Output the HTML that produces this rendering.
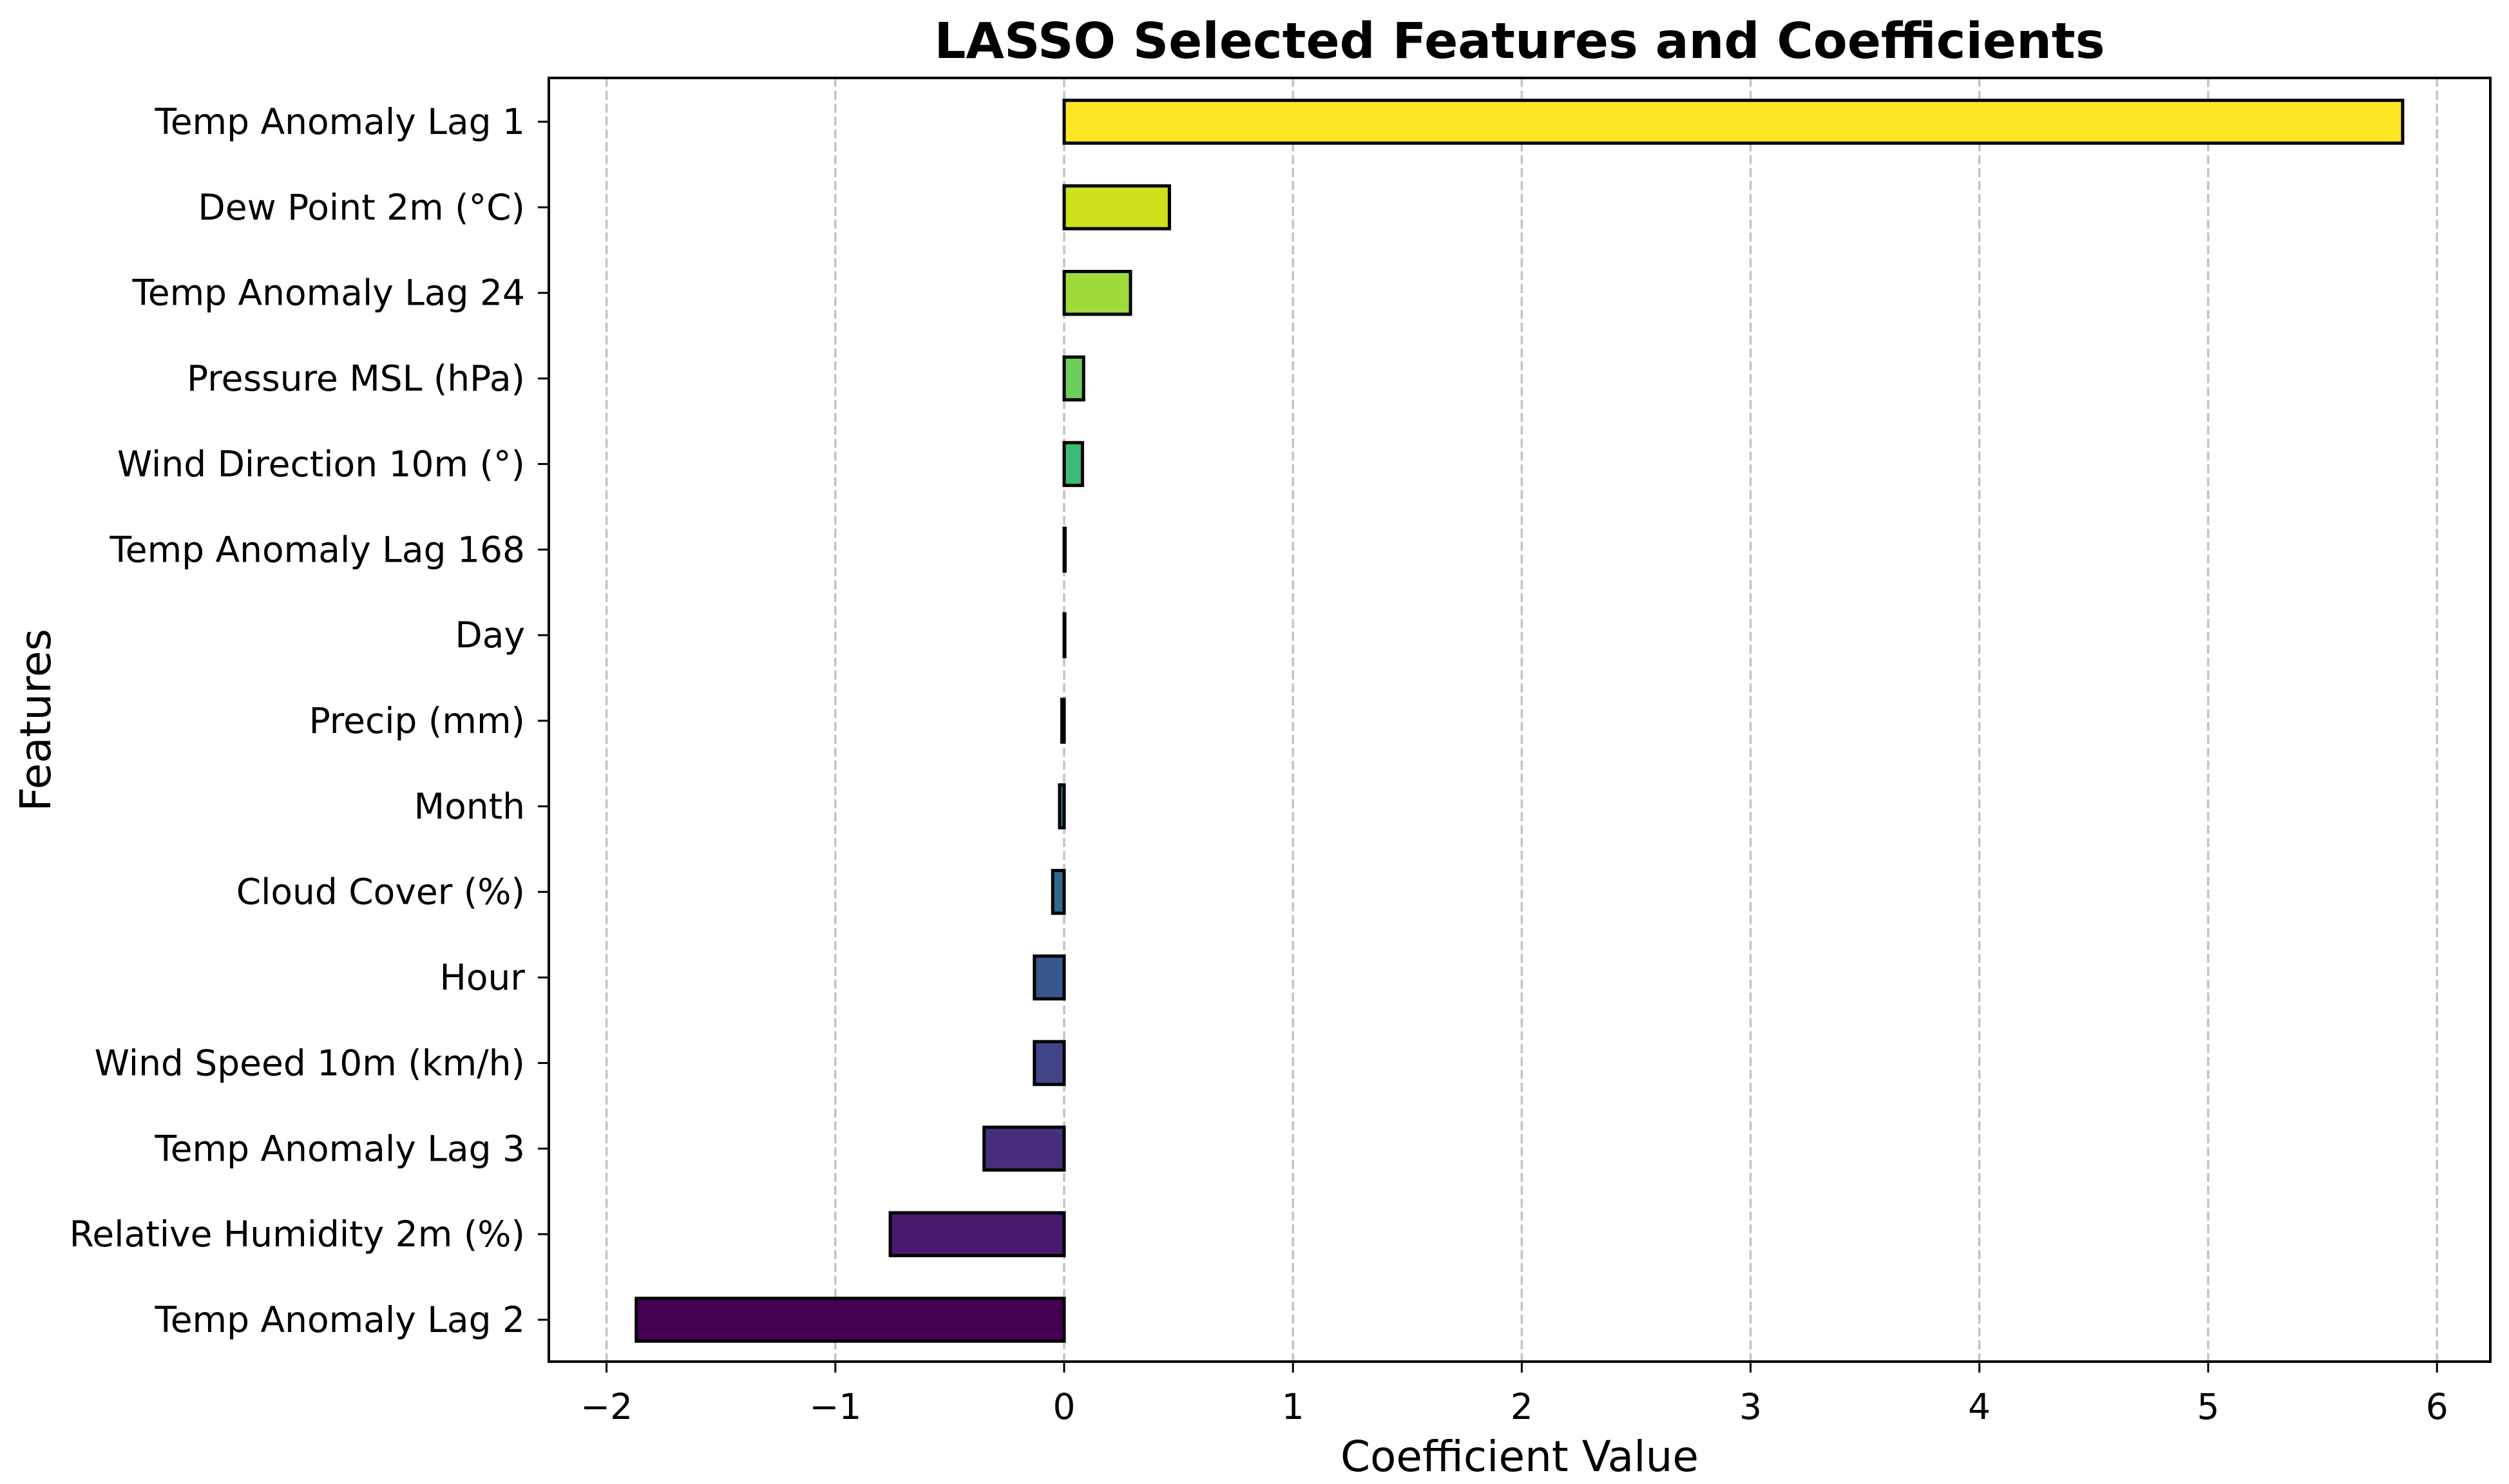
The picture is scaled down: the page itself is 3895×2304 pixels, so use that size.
<!DOCTYPE html>
<html><head><meta charset="utf-8"><style>
html,body{margin:0;padding:0;background:#fff}
svg text{font-family:"DejaVu Sans","Liberation Sans",sans-serif;fill:#000}
</style></head><body>
<svg id="chart" width="3895" height="2299" xmlns="http://www.w3.org/2000/svg">
<rect width="3895" height="2299" fill="#fff"/>
<g id="grid"></g><g id="bars"></g><g id="axes"></g>
</svg>
<script>
const categories = ["Temp Anomaly Lag 1","Dew Point 2m (°C)","Temp Anomaly Lag 24","Pressure MSL (hPa)","Wind Direction 10m (°)","Temp Anomaly Lag 168","Day","Precip (mm)","Month","Cloud Cover (%)","Hour","Wind Speed 10m (km/h)","Temp Anomaly Lag 3","Relative Humidity 2m (%)","Temp Anomaly Lag 2"];
const coefficients = [5.85, 0.46, 0.29, 0.085, 0.08, 0.004, 0.003, -0.01, -0.02, -0.05, -0.13, -0.13, -0.35, -0.76, -1.87];
const barColors = ["#fde725","#cde11d","#9fda3a","#6ccd5a","#3bbb75","#22a884","#1f988b","#23888e","#2a788e","#31688e","#38588c","#414487","#472f7d","#481a6c","#440154"];
const xTicks = [-2,-1,0,1,2,3,4,5,6];
const xTickLabels = ["\u22122","\u22121","0","1","2","3","4","5","6"];

const NS="http://www.w3.org/2000/svg";
const L=852,R=3866,T=121,B=2114;
const x0=1652, unit=355.2;
function xs(v){return x0+v*unit;}
const step=(2049-189)/(categories.length-1);
function ys(i){return 189+i*step;}
function mk(tag,attrs,parent,text){const e=document.createElementNS(NS,tag);for(const k in attrs)e.setAttribute(k,attrs[k]);if(text!==undefined)e.textContent=text;parent.appendChild(e);return e;}
const grid=document.getElementById('grid'),bars=document.getElementById('bars'),axes=document.getElementById('axes');
xTicks.forEach((t,i)=>{
  const g=mk('line',{x1:xs(t),x2:xs(t),y1:T,y2:B,stroke:'#c4c4c4','stroke-width':3.5,'stroke-dasharray':'14,6'},grid);
  
  
  const tk=mk('line',{x1:xs(t),x2:xs(t),y1:B,y2:B+17,stroke:'#000','stroke-width':3},axes);
  
  
  const lb=mk('text',{x:xs(t),y:2203,'font-size':55,'text-anchor':'middle'},axes,xTickLabels[i]);
  
  
});
const bh=step*0.5;
categories.forEach((c,i)=>{
  const v=coefficients[i];
  const xa=Math.min(xs(0),xs(v)), w=Math.abs(xs(v)-xs(0));
  const r=mk('rect',{x:xa,y:ys(i)-bh/2,width:Math.max(w,1),height:bh,fill:barColors[i],stroke:'#000','stroke-width':5},bars);
  
  
  const tk=mk('line',{x1:L-17,x2:L,y1:ys(i),y2:ys(i),stroke:'#000','stroke-width':3},axes);
  
  
  const lb=mk('text',{x:L-37,y:ys(i)+19,'font-size':55,'text-anchor':'end'},axes,c);
  
  
});
const frame=mk('rect',{x:L,y:T,width:R-L,height:B-T,fill:'none',stroke:'#000','stroke-width':4},axes);


const title=mk('text',{x:(L+R)/2,y:90,'font-size':77,'font-weight':'bold','text-anchor':'middle'},axes,'LASSO Selected Features and Coefficients');


const xl=mk('text',{x:(L+R)/2,y:2284,'font-size':66,'text-anchor':'middle'},axes,'Coefficient Value');


const yl=mk('text',{x:0,y:0,'font-size':66,'text-anchor':'middle',transform:'translate(78,1118) rotate(-90)'},axes,'Features');


</script>
</body></html>
